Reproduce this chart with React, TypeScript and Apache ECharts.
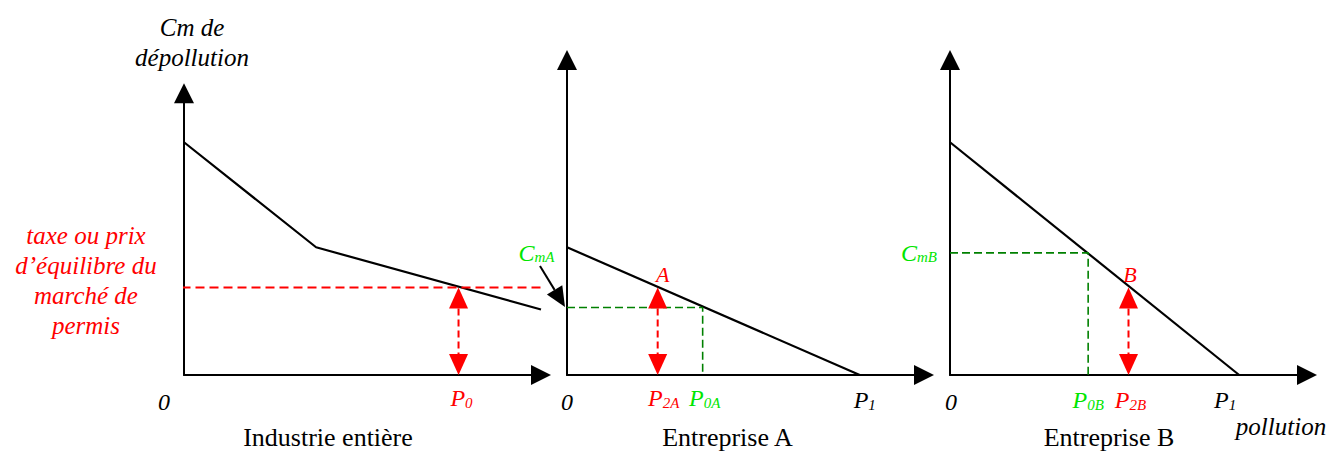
import React, { useEffect, useRef } from 'react';
import * as echarts from 'echarts';

const SERIF = "'Liberation Serif'";
const RED = '#ff0000';
const GREEN_LINE = '#008000';
const GREEN_TEXT = '#00e600';
const BLACK = '#000000';

// ---------------- data (abstract units) ----------------
const X_MAX = 10; // pollution axis extent (each panel)
const Y_MAX_INDUSTRY = 8.05; // cost axis extent, industry panel
const Y_MAX_FIRM = 9; // cost axis extent, firm panels

// marginal abatement cost curves
const industryX = [0, 3.7, 10];
const industryY = [6.65, 3.65, 1.87];
const firmAX = [0, 8.2];
const firmAY = [3.65, 0];
const firmBX = [0, 8.1];
const firmBY = [6.65, 0];

// tax / permit price
const TAX = 2.5;
const TAX_LINE_X = [-0.07, 29.5]; // industry-panel units, the line runs across all panels

// key quantities / costs
const P0 = 7.69;
const P2A = 2.54;
const P0A = 3.8;
const CMA = 1.93;
const P1A = 8.2;
const P2B = 5.0;
const P0B = 3.87;
const CMB = 3.49;
const P1B = 8.1;

// labels (rich text) and the data values they belong to
const industryLabelTexts = ['{m|0}', '{m|P}{s|0}'];
const industryLabelValues = [[0, 0], [P0, 0]];
const firmALabelTexts = ['{m|0}', '{m|P}{s|2A}', '{m|P}{s|0A}', '{m|P}{s|1}', '{a|A}', '{m|C}{s|mA}'];
const firmALabelValues = [[0, 0], [P2A, 0], [P0A, 0], [P1A, 0], [P2A, TAX], [0, CMA]];
const firmBLabelTexts = ['{m|0}', '{m|P}{s|0B}', '{m|P}{s|2B}', '{m|P}{s|1}', '{a|B}', '{m|C}{s|mB}'];
const firmBLabelValues = [[0, 0], [P0B, 0], [P2B, 0], [P1B, 0], [P2B, TAX], [0, CMB]];

const yTitleLines = ['Cm de', 'dépollution'];
const taxTitleLines = ['taxe ou prix', 'd’équilibre du', 'marché de', 'permis'];
const panelTitles = ['Industrie entière', 'Entreprise A', 'Entreprise B'];
const xTitle = 'pollution';

// ---------------- layout & styles ----------------
const PX_X = 35.7;
const PX_Y = 35;
const ORIGIN_Y = 375;
const ORIGINS_X = [184, 567, 950];
const Y_MAXES = [Y_MAX_INDUSTRY, Y_MAX_FIRM, Y_MAX_FIRM];

type LStyle = { color: string; dx: number; dy: number };
const industryLabelStyles: LStyle[] = [
  { color: BLACK, dx: -20, dy: 27 },
  { color: RED, dx: 3, dy: 23 },
];
const firmALabelStyles: LStyle[] = [
  { color: BLACK, dx: 0, dy: 27 },
  { color: RED, dx: 6, dy: 23 },
  { color: GREEN_TEXT, dx: 2, dy: 23 },
  { color: BLACK, dx: 5, dy: 25 },
  { color: RED, dx: 5, dy: -13.5 },
  { color: GREEN_TEXT, dx: -30.5, dy: -54.5 },
];
const firmBLabelStyles: LStyle[] = [
  { color: BLACK, dx: 1, dy: 27 },
  { color: GREEN_TEXT, dx: 0, dy: 25 },
  { color: RED, dx: 2, dy: 25 },
  { color: BLACK, dx: -14, dy: 25 },
  { color: RED, dx: 1.5, dy: -13.5 },
  { color: GREEN_TEXT, dx: -31, dy: 0 },
];
const panelTitleCenters = [328, 727.5, 1109];

const makeRich = (color: string) => ({
  m: { fontFamily: SERIF, fontStyle: 'italic', fontSize: 24, fill: color },
  s: { fontFamily: SERIF, fontStyle: 'italic', fontSize: 15, fill: color, verticalAlign: 'bottom', lineHeight: 12 },
  a: { fontFamily: SERIF, fontStyle: 'italic', fontSize: 22, fill: color },
});

const pairs = (xs: number[], ys: number[]) => xs.map((x, i) => [x, ys[i]]);

function labelSeries(gi: number, texts: string[], values: number[][], styles: LStyle[]) {
  return {
    type: 'custom',
    xAxisIndex: gi,
    yAxisIndex: gi,
    silent: true,
    z: 10,
    data: values,
    renderItem: (params: any, api: any) => {
      const i = params.dataIndex;
      const p = api.coord([api.value(0), api.value(1)]);
      const st = styles[i];
      return {
        type: 'text',
        x: p[0] + st.dx,
        y: p[1] + st.dy,
        style: {
          text: texts[i],
          rich: makeRich(st.color),
          fill: st.color,
          fontFamily: SERIF,
          fontStyle: 'italic',
          fontSize: 24,
          align: 'center',
          verticalAlign: 'middle',
        },
      };
    },
  };
}

function doubleArrowSeries(gi: number, x: number, y: number) {
  return {
    type: 'custom',
    xAxisIndex: gi,
    yAxisIndex: gi,
    silent: true,
    z: 6,
    data: [[x, y]],
    renderItem: (_params: any, api: any) => {
      const top = api.coord([api.value(0), api.value(1)]);
      const bot = api.coord([api.value(0), 0]);
      const L = 21;
      const W = 9.5;
      return {
        type: 'group',
        children: [
          {
            type: 'line',
            shape: { x1: top[0], y1: top[1] + L, x2: bot[0], y2: bot[1] - L },
            style: { stroke: RED, lineWidth: 2, lineDash: [7, 4] },
          },
          {
            type: 'polygon',
            shape: { points: [[top[0], top[1]], [top[0] - W, top[1] + L], [top[0] + W, top[1] + L]] },
            style: { fill: RED },
          },
          {
            type: 'polygon',
            shape: { points: [[bot[0], bot[1]], [bot[0] - W, bot[1] - L], [bot[0] + W, bot[1] - L]] },
            style: { fill: RED },
          },
        ],
      };
    },
  };
}

function pointerArrowSeries(gi: number, x: number, y: number) {
  return {
    type: 'custom',
    xAxisIndex: gi,
    yAxisIndex: gi,
    silent: true,
    z: 7,
    data: [[x, y]],
    renderItem: (_params: any, api: any) => {
      const a = api.coord([api.value(0), api.value(1)]);
      const sx = a[0] - 27;
      const sy = a[1] - 41.5;
      const tx = a[0] - 2;
      const ty = a[1] - 0.5;
      const ddx = tx - sx;
      const ddy = ty - sy;
      const len = Math.hypot(ddx, ddy);
      const ux = ddx / len;
      const uy = ddy / len;
      const L = 20;
      const W = 9;
      const bx = tx - ux * L;
      const by = ty - uy * L;
      return {
        type: 'group',
        children: [
          { type: 'line', shape: { x1: sx, y1: sy, x2: bx, y2: by }, style: { stroke: BLACK, lineWidth: 2 } },
          {
            type: 'polygon',
            shape: { points: [[tx, ty], [bx - uy * W, by + ux * W], [bx + uy * W, by - ux * W]] },
            style: { fill: BLACK },
          },
        ],
      };
    },
  };
}

const lineSeries = (gi: number, data: number[][], color: string, width: number, dash: any, extra: any = {}) => ({
  type: 'line',
  xAxisIndex: gi,
  yAxisIndex: gi,
  data,
  symbol: 'none',
  silent: true,
  lineStyle: { color, width, type: dash },
  z: 4,
  ...extra,
});

const textEl = (x: number, y: number, text: string, color: string, size: number, italic: boolean, lineHeight?: number) => ({
  type: 'text',
  x,
  y,
  silent: true,
  style: {
    text,
    fill: color,
    fontFamily: SERIF,
    fontStyle: italic ? 'italic' : 'normal',
    fontSize: size,
    lineHeight: lineHeight || size,
    align: 'center',
    textAlign: 'center',
    verticalAlign: 'middle',
    textVerticalAlign: 'middle',
  },
});

function buildOption() {
  const grids = ORIGINS_X.map((left, i) => ({
    left,
    top: ORIGIN_Y - Y_MAXES[i] * PX_Y,
    width: X_MAX * PX_X,
    height: Y_MAXES[i] * PX_Y,
    containLabel: false,
    outerBoundsMode: 'none',
  }));
  const axisBase = {
    type: 'value',
    min: 0,
    axisLine: {
      show: true,
      onZero: false,
      symbol: ['none', 'triangle'],
      symbolSize: [20, 20],
      lineStyle: { color: BLACK, width: 2 },
    },
    axisTick: { show: false },
    axisLabel: { show: false },
    splitLine: { show: false },
  };
  const xAxis = ORIGINS_X.map((_, i) => ({ ...axisBase, gridIndex: i, max: X_MAX }));
  const yAxis = ORIGINS_X.map((_, i) => ({ ...axisBase, gridIndex: i, max: Y_MAXES[i] }));

  const series: any[] = [
    lineSeries(0, pairs(industryX, industryY), BLACK, 2.2, 'solid'),
    lineSeries(1, pairs(firmAX, firmAY), BLACK, 2.2, 'solid'),
    lineSeries(2, pairs(firmBX, firmBY), BLACK, 2.2, 'solid'),
    lineSeries(1, [[0, CMA], [P0A, CMA], [P0A, 0]], GREEN_LINE, 1.6, [8, 4]),
    lineSeries(2, [[0, CMB], [P0B, CMB], [P0B, 0]], GREEN_LINE, 1.6, [8, 4]),
    lineSeries(0, [[TAX_LINE_X[0], TAX], [TAX_LINE_X[1], TAX]], RED, 2, [9, 5], { clip: false, z: 5 }),
    doubleArrowSeries(0, P0, TAX),
    doubleArrowSeries(1, P2A, TAX),
    doubleArrowSeries(2, P2B, TAX),
    pointerArrowSeries(1, 0, CMA),
    labelSeries(0, industryLabelTexts, industryLabelValues, industryLabelStyles),
    labelSeries(1, firmALabelTexts, firmALabelValues, firmALabelStyles),
    labelSeries(2, firmBLabelTexts, firmBLabelValues, firmBLabelStyles),
  ];

  const graphic = [
    textEl(192, 42.2, yTitleLines.join('\n'), BLACK, 25, true, 30.4),
    textEl(86, 280, taxTitleLines.join('\n'), RED, 25, true, 30),
    ...panelTitles.map((t, i) => textEl(panelTitleCenters[i], 437.5, t, BLACK, 26, false)),
    textEl(1281, 426.6, xTitle, BLACK, 25, true),
  ];

  return {
    animation: false,
    backgroundColor: '#ffffff',
    grid: grids,
    xAxis,
    yAxis,
    series,
    graphic,
  };
}

export default function App() {
  const ref = useRef<HTMLDivElement>(null);
  useEffect(() => {
    if (!ref.current) return;
    const chart = echarts.init(ref.current, undefined, { renderer: 'svg' });
    chart.setOption(buildOption() as any);
    return () => chart.dispose();
  }, []);
  return <div ref={ref} style={{ position: 'absolute', left: 0, top: 0, width: 1331, height: 451 }} />;
}
